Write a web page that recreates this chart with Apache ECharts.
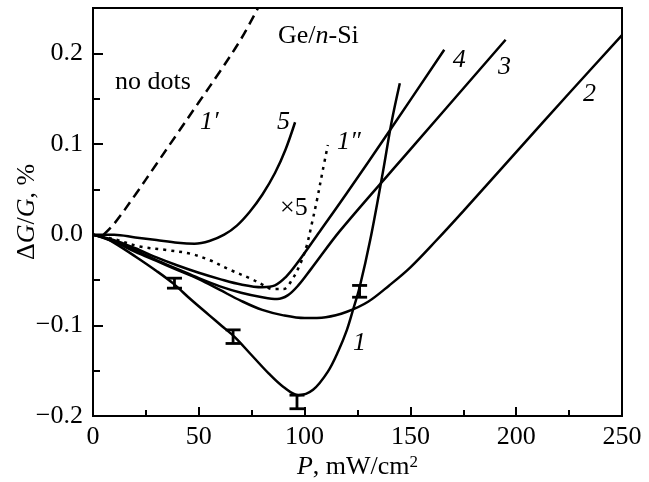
<!DOCTYPE html>
<html><head><meta charset="utf-8">
<script src="https://cdn.jsdelivr.net/npm/echarts@6/dist/echarts.min.js"></script>
<style>html,body{margin:0;padding:0;background:#fff}#c{width:649px;height:482px}</style>
</head><body><div id="c"></div>
<script>
// ---- data (P in mW/cm^2, dG/G in %) ----
const curve1 = [[0,0],[5,-0.003],[10,-0.009],[20,-0.024],[30,-0.04],[38,-0.054],[46,-0.071],[55,-0.089],[61,-0.101],[67,-0.113],[75,-0.133],[83,-0.153],[90,-0.168],[97,-0.177],[104,-0.171],[111,-0.151],[116,-0.128],[120,-0.105],[123,-0.082],[126,-0.058],[131,-0.006],[137,0.069],[141,0.123],[145,0.167]];
const curve2 = [[0,0],[10,-0.008],[20,-0.019],[30,-0.029],[40,-0.039],[50,-0.049],[60,-0.061],[70,-0.073],[80,-0.083],[90,-0.089],[100,-0.092],[110,-0.091],[120,-0.085],[130,-0.074],[140,-0.056],[150,-0.036],[162,-0.007],[175,0.026],[200,0.091],[225,0.156],[250,0.22]];
const curve3 = [[0,0],[10,-0.007],[20,-0.017],[30,-0.028],[40,-0.038],[50,-0.048],[60,-0.057],[70,-0.064],[80,-0.069],[87,-0.071],[92,-0.067],[97,-0.056],[103,-0.038],[117,0.005],[150,0.094],[195,0.215]];
const curve4 = [[0,0],[10,-0.006],[20,-0.015],[30,-0.025],[40,-0.034],[50,-0.042],[60,-0.049],[70,-0.055],[80,-0.058],[86,-0.056],[91,-0.047],[96,-0.033],[107,0.003],[120,0.046],[140,0.114],[166,0.204]];
const curve5 = [[0,0],[10,0.0],[20,-0.003],[30,-0.006],[40,-0.009],[48,-0.010],[55,-0.007],[62,0.0],[68,0.01],[74,0.025],[80,0.044],[86,0.068],[91,0.094],[95.5,0.124]];
const curve1p = [[5,0],[10,0.012],[20,0.044],[30,0.078],[40,0.112],[50,0.146],[60,0.18],[70,0.216],[78,0.25]];
const curve1pp = [[0,0],[10,-0.005],[22,-0.013],[35,-0.017],[46,-0.021],[55,-0.028],[65,-0.039],[75,-0.049],[80,-0.055],[85,-0.06],[90,-0.06],[94,-0.05],[98,-0.032],[101,-0.012],[103.5,0.013],[106,0.04],[108.5,0.07],[111,0.099]];
// error bars: [P, low, high]
const errBars = [[38.5,-0.059,-0.048],[66.2,-0.120,-0.105],[96.4,-0.192,-0.177],[126,-0.069,-0.056]];
const xTicks = [0,50,100,150,200,250];
const yTicks = [-0.2,-0.1,0.0,0.1,0.2];
// annotations: [P, value, text, style]
const notes = [
  [87.4, 0.219, 'Ge/', 'n'],
  [10.4, 0.168, 'no dots', 'n'],
  [50.6, 0.124, '1′', 'i'],
  [87, 0.124, '5', 'i'],
  [115.3, 0.102, '1″', 'i'],
  [88.4, 0.029, '×5', 'n'],
  [170, 0.193, '4', 'i'],
  [191.4, 0.185, '3', 'i'],
  [231.6, 0.155, '2', 'i'],
  [122.9, -0.120, '1', 'i']
];

const FONT = '"Liberation Serif","DejaVu Serif",serif';
const FS = 26;
const chart = echarts.init(document.getElementById('c'));
const lineSeries = (data, type) => ({
  type: 'line', data: data, showSymbol: false, smooth: 0.35, z: 3,
  lineStyle: {color: '#000', width: 2.5, type: type || 'solid'}
});
chart.setOption({
  animation: false,
  grid: {left: 93, right: 27, top: 8, bottom: 66, containLabel: false, outerBoundsMode: 'none',
         show: true, borderColor: '#000', borderWidth: 2},
  xAxis: {
    type: 'value', min: 0, max: 250, interval: 50,
    axisLine: {onZero: false, lineStyle: {color: '#000', width: 2}},
    axisTick: {inside: true, length: 9, lineStyle: {color: '#000', width: 2}},
    minorTick: {show: true, splitNumber: 2, length: 6, lineStyle: {color: '#000', width: 2}},
    splitLine: {show: false},
    axisLabel: {color: '#000', fontFamily: FONT, fontSize: FS, margin: 8,
      formatter: v => xTicks.indexOf(v) >= 0 ? String(v) : ''},
    name: '{i|P}, mW/cm{s|2}', nameLocation: 'middle', nameGap: 38, nameMoveOverlap: false,
    nameTextStyle: {color: '#000', fontFamily: FONT, fontSize: FS,
      rich: {i: {fontStyle: 'italic', fontFamily: FONT, fontSize: FS, color: '#000'},
             s: {fontFamily: FONT, fontSize: 17, verticalAlign: 'top', color: '#000'}}}
  },
  yAxis: {
    type: 'value', min: -0.2, max: 0.25, interval: 0.1,
    axisLine: {onZero: false, lineStyle: {color: '#000', width: 2}},
    axisTick: {inside: true, length: 10, lineStyle: {color: '#000', width: 2}},
    minorTick: {show: true, splitNumber: 2, length: 7, lineStyle: {color: '#000', width: 2}},
    splitLine: {show: false},
    axisLabel: {color: '#000', fontFamily: FONT, fontSize: FS, margin: 10, showMaxLabel: false,
      formatter: v => {
        const t = yTicks.find(k => Math.abs(k - v) < 1e-6);
        if (t === undefined) return '';
        return (t < 0 ? '\u2212' : '') + Math.abs(t).toFixed(1);
      }},
    name: 'Δ{i|G}/{i|G}, %', nameLocation: 'middle', nameGap: 53, nameRotate: 90, nameMoveOverlap: false,
    nameTextStyle: {color: '#000', fontFamily: FONT, fontSize: FS,
      rich: {i: {fontStyle: 'italic', fontFamily: FONT, fontSize: FS, color: '#000'}}}
  },
  series: [
    lineSeries(curve1), lineSeries(curve2), lineSeries(curve3), lineSeries(curve4), lineSeries(curve5),
    lineSeries(curve1p, [10, 6]),
    lineSeries(curve1pp, [3, 5]),
    {
      type: 'custom', data: errBars, z: 4,
      renderItem: (params, api) => {
        const x = api.value(0);
        const lo = api.coord([x, api.value(1)]);
        const hi = api.coord([x, api.value(2)]);
        const w = 7.5;
        const st = {stroke: '#000', lineWidth: 2.8};
        return {type: 'group', children: [
          {type: 'line', shape: {x1: lo[0], y1: lo[1], x2: hi[0], y2: hi[1]}, style: st},
          {type: 'line', shape: {x1: lo[0]-w, y1: lo[1], x2: lo[0]+w, y2: lo[1]}, style: st},
          {type: 'line', shape: {x1: hi[0]-w, y1: hi[1], x2: hi[0]+w, y2: hi[1]}, style: st}
        ]};
      }
    }
  ]
});
const graphics = notes.map(n => {
  const p = chart.convertToPixel({gridIndex: 0}, [n[0], n[1]]);
  const isGe = n[2] === 'Ge/';
  return {
    type: 'text', x: p[0], y: p[1], z: 10,
    style: {
      text: isGe ? 'Ge/{i|n}-Si' : n[2],
      fontFamily: FONT, fontSize: FS, fill: '#000',
      fontStyle: n[3] === 'i' ? 'italic' : 'normal',
      verticalAlign: 'middle', align: 'left',
      rich: isGe ? {i: {fontStyle: 'italic', fontFamily: FONT, fontSize: FS, fill: '#000'}} : undefined
    }
  };
});
chart.setOption({graphic: graphics});
</script></body></html>
